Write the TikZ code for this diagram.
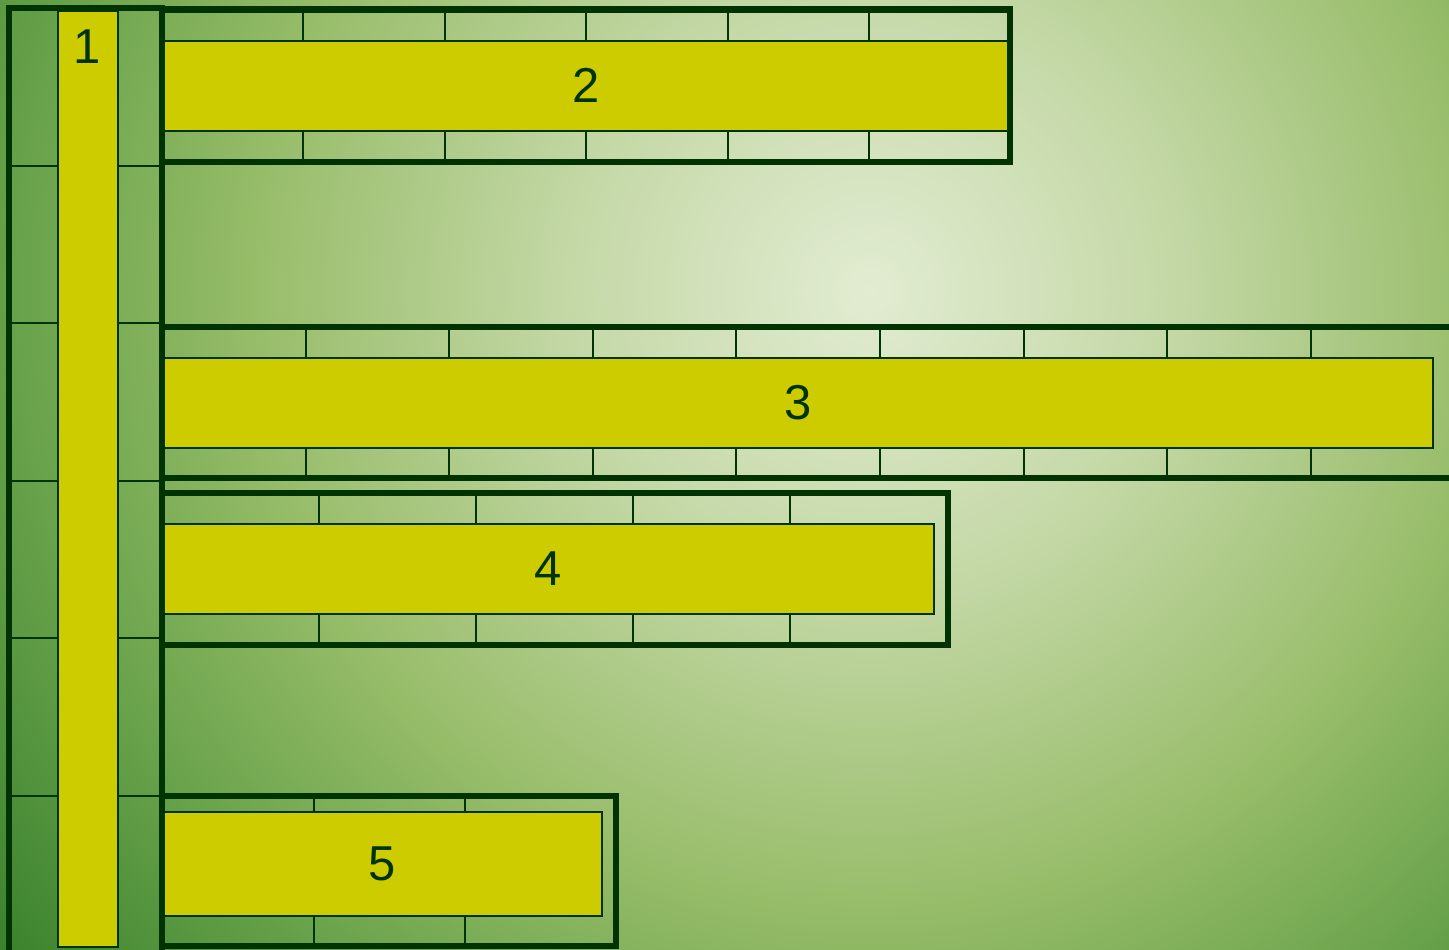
\documentclass[tikz,border=0pt]{standalone}
\usepackage{fontspec}
\setmainfont{Liberation Sans}
\definecolor{dkg}{RGB}{0,51,0}
\definecolor{yel}{RGB}{204,204,0}
\definecolor{bgA}{RGB}{226,236,210}
\definecolor{bgB}{RGB}{196,216,166}
\definecolor{bgC}{RGB}{150,188,104}
\definecolor{bgD}{RGB}{104,162,74}
\definecolor{bgE}{RGB}{56,128,44}
\pgfdeclareradialshading{bgshade}{\pgfpointorigin}{color(0bp)=(bgA); color(300bp)=(bgB); color(620bp)=(bgC); color(850bp)=(bgD); color(1100bp)=(bgE); color(1200bp)=(bgE)}
\tikzset{
  frameline/.style={draw=dkg, line width=6.5pt},
  gridline/.style={draw=dkg, line width=2pt},
  bar/.style={fill=yel, draw=dkg, line width=1.6pt, inner sep=0pt, anchor=north west},
  numlabel/.style={text=dkg, font=\fontsize{49}{55}\selectfont},
}
\begin{document}
\begin{tikzpicture}[x=1pt,y=-1pt]
\useasboundingbox (0,0) rectangle (1449,950);
% background
\begin{scope}
  \clip (0,0) rectangle (1449,950);
  \node[inner sep=0pt] (bgc) at (870,290) {\pgfuseshading{bgshade}};
\end{scope}

% ---- bar 2 ----
\node[bar, minimum width=846pt, minimum height=90pt, numlabel] (b2) at (162,40) {2};
\foreach \k in {1,...,5} {
  \draw[gridline] ({162+141.4*\k},9) -- ({162+141.4*\k},40);
  \draw[gridline] ({162+141.4*\k},130) -- ({162+141.4*\k},162);
}
\draw[frameline] (162,9.5) rectangle (1010,162);

% ---- bar 3 ----
\node[bar, minimum width=1270pt, minimum height=90pt, numlabel] (b3) at (162,357) {3};
\foreach \k in {1,...,8} {
  \draw[gridline] ({162+143.6*\k},327) -- ({162+143.6*\k},357);
  \draw[gridline] ({162+143.6*\k},447) -- ({162+143.6*\k},478);
}
\draw[frameline] (1470,327) -- (162,327);
\draw[frameline] (162,478) -- (1470,478);

% ---- bar 4 ----
\node[bar, minimum width=771pt, minimum height=90pt, numlabel] (b4) at (162,523) {4};
\foreach \k in {1,...,4} {
  \draw[gridline] ({162+157*\k},493) -- ({162+157*\k},523);
  \draw[gridline] ({162+157*\k},613) -- ({162+157*\k},645);
}
\draw[frameline] (162,493) rectangle (948,645);

% ---- bar 5 ----
\node[bar, minimum width=439pt, minimum height=104pt, numlabel] (b5) at (162,811) {5};
\foreach \k in {1,2} {
  \draw[gridline] ({162+151.5*\k},796) -- ({162+151.5*\k},811);
  \draw[gridline] ({162+151.5*\k},915) -- ({162+151.5*\k},946);
}
\draw[frameline] (162,796) rectangle (616,946);

% ---- left column ----
\foreach \yy in {165.5,323,480.5,638,795.5} {
  \draw[gridline] (9,\yy) -- (57,\yy);
  \draw[gridline] (117,\yy) -- (162,\yy);
}
\node[bar, minimum width=60pt, minimum height=936pt] (b1) at (57,10) {};
\node[numlabel] (t1) at (87,47) {1};
\draw[frameline] (9,960) -- (9,8) -- (162,8) -- (162,960);
\end{tikzpicture}
\end{document}
